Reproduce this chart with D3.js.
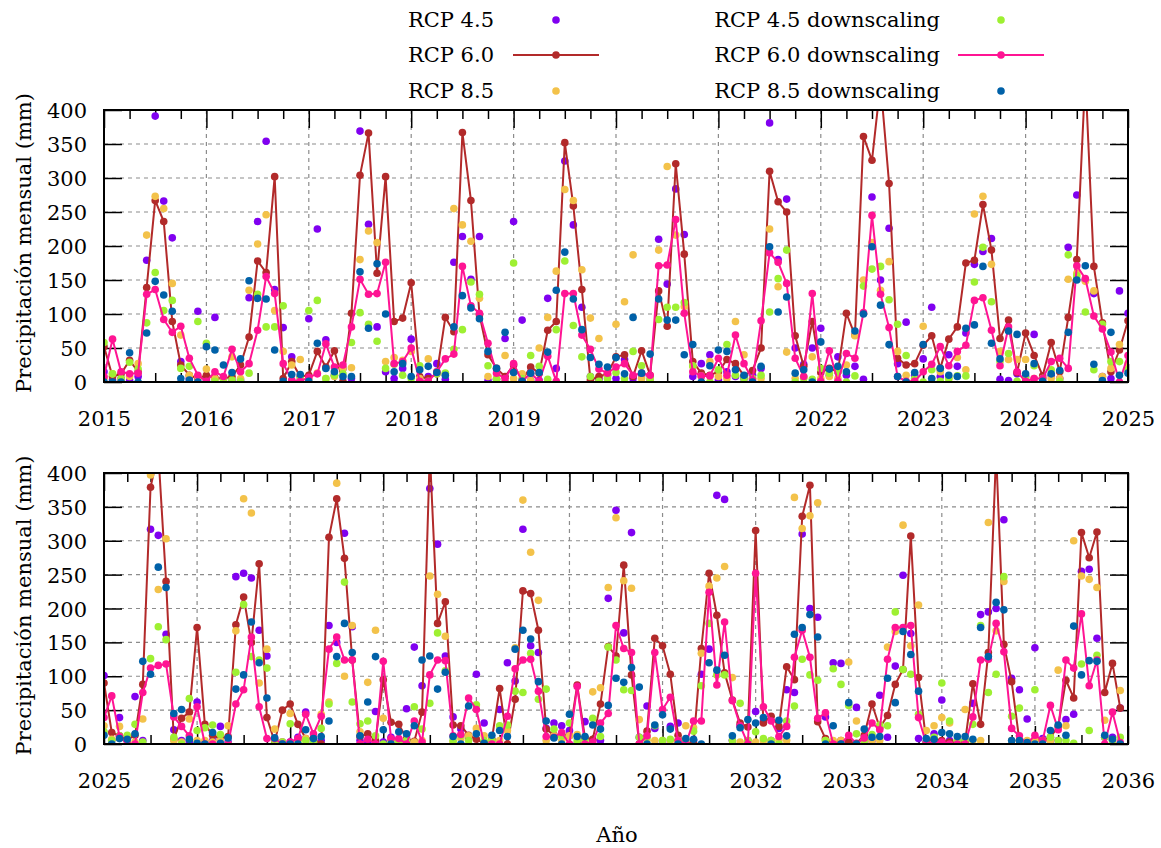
<!DOCTYPE html>
<html>
<head>
<meta charset="utf-8">
<script src="https://cdn.jsdelivr.net/npm/d3@7"></script>
<style>
  body { margin: 0; background: #fff; }
  svg { display: block; }
  text { font-family: "DejaVu Serif", "Liberation Serif", serif; fill: #000; }
</style>
</head>
<body>
<svg id="chart" width="1161" height="848"></svg>
<script>
// Monthly precipitation (mm), one row per calendar year, January 2015 .. December 2035
const firstYear = 2015;

const rcp45 = [
  15, 3, 5, 2, 8, 179, 391, 266, 212, 30, 5, 104,
  3, 95, 5, 2, 3, 124, 236, 354, 136, 80, 37, 2,
  93, 225, 62, 10, 20, 5, 369, 232, 81, 15, 5, 20,
  63, 3, 8, 27, 4, 176, 214, 151, 214, 2, 4, 64,
  236, 91, 2, 2, 123, 20, 325, 231, 110, 8, 4, 10,
  5, 33, 5, 10, 3, 210, 144, 284, 217, 8, 27, 40,
  3, 15, 8, 5, 10, 20, 381, 180, 269, 50, 26, 50,
  79, 10, 37, 10, 23, 4, 272, 150, 226, 27, 88, 10,
  34, 110, 8, 40, 23, 72, 173, 192, 211, 4, 2, 12,
  8, 70, 1, 10, 5, 198, 275, 150, 130, 8, 5, 134,
  101, 5, 39, 5, 70, 5, 317, 308, 162, 21, 5, 3,
  62, 3, 5, 26, 3, 247, 252, 245, 168, 130, 5, 3,
  3, 10, 47, 3, 5, 175, 150, 311, 173, 5, 2, 48,
  3, 10, 5, 52, 143, 86, 377, 295, 130, 40, 22, 10,
  103, 31, 5, 51, 120, 93, 317, 145, 135, 23, 31, 27,
  20, 1, 33, 5, 5, 215, 345, 164, 312, 10, 56, 23,
  3, 26, 31, 5, 5, 103, 140, 367, 361, 5, 27, 5,
  48, 33, 5, 23, 80, 76, 310, 200, 187, 40, 120, 119,
  5, 54, 5, 5, 72, 10, 115, 249, 163, 8, 3, 15,
  65, 5, 3, 5, 60, 191, 195, 200, 331, 97, 80, 37,
  142, 8, 5, 5, 36, 44, 255, 258, 156, 10, 10, 53
];

const rcp60 = [
  52, 8, 12, 32, 15, 139, 267, 236, 89, 25, 10, 5,
  10, 6, 5, 8, 25, 66, 178, 161, 302, 5, 30, 8,
  10, 45, 22, 46, 1, 101, 304, 366, 160, 302, 89, 94,
  146, 8, 5, 12, 95, 74, 367, 267, 99, 40, 20, 8,
  25, 3, 22, 13, 76, 89, 352, 259, 136, 3, 8, 12,
  37, 40, 8, 46, 10, 134, 82, 321, 188, 30, 13, 10,
  15, 33, 27, 9, 17, 50, 310, 265, 250, 68, 23, 89,
  14, 20, 15, 101, 69, 361, 326, 440, 292, 35, 25, 27,
  54, 68, 20, 63, 81, 175, 179, 261, 194, 64, 91, 14,
  72, 39, 9, 58, 15, 95, 180, 450, 170, 87, 15, 47,
  90, 17, 12, 6, 13, 88, 379, 430, 240, 7, 38, 47,
  172, 29, 13, 8, 11, 176, 217, 150, 266, 39, 3, 50,
  59, 29, 8, 8, 0, 305, 362, 274, 124, 11, 15, 5,
  95, 32, 29, 8, 4, 47, 430, 178, 210, 28, 27, 13,
  7, 1, 7, 82, 0, 66, 226, 222, 168, 22, 13, 14,
  12, 87, 9, 7, 59, 144, 130, 264, 102, 0, 19, 156,
  145, 103, 13, 1, 1, 141, 252, 190, 105, 65, 31, 25,
  315, 31, 41, 26, 114, 95, 336, 382, 33, 8, 2, 5,
  3, 1, 13, 59, 24, 42, 88, 110, 307, 98, 3, 8,
  5, 3, 2, 3, 89, 29, 135, 430, 147, 92, 5, 3,
  6, 5, 10, 26, 94, 68, 312, 275, 313, 76, 119, 53
];

const rcp85 = [
  5, 12, 3, 8, 27, 216, 273, 255, 145, 69, 10, 8,
  19, 5, 3, 37, 5, 135, 203, 246, 105, 45, 25, 33,
  4, 13, 5, 8, 20, 21, 180, 222, 205, 30, 36, 32,
  45, 5, 34, 15, 12, 255, 231, 207, 123, 8, 5, 39,
  5, 12, 2, 50, 95, 163, 283, 267, 165, 94, 64, 10,
  85, 118, 187, 5, 3, 194, 317, 216, 111, 23, 8, 30,
  8, 5, 89, 40, 5, 5, 225, 140, 44, 5, 8, 37,
  5, 8, 5, 25, 68, 150, 205, 135, 177, 45, 10, 3,
  82, 5, 15, 5, 36, 18, 247, 273, 173, 45, 33, 33,
  33, 5, 5, 5, 5, 151, 160, 148, 134, 8, 20, 55,
  27, 7, 26, 5, 3, 37, 397, 228, 303, 5, 3, 37,
  5, 5, 3, 5, 27, 167, 362, 341, 90, 140, 22, 3,
  45, 5, 8, 5, 44, 62, 385, 100, 175, 18, 91, 168,
  38, 5, 3, 5, 3, 5, 248, 221, 159, 3, 8, 12,
  23, 12, 5, 5, 20, 142, 360, 283, 212, 5, 12, 5,
  12, 14, 3, 77, 83, 231, 334, 241, 230, 36, 5, 5,
  5, 5, 5, 27, 24, 134, 233, 245, 262, 98, 3, 5,
  3, 5, 5, 5, 5, 364, 318, 337, 356, 5, 5, 5,
  121, 34, 5, 5, 5, 143, 166, 323, 145, 205, 20, 27,
  39, 31, 5, 51, 5, 5, 327, 167, 240, 5, 5, 5,
  5, 5, 5, 109, 27, 300, 248, 243, 231, 35, 5, 79
];

const rcp45Down = [
  58, 12, 5, 29, 19, 87, 161, 105, 120, 20, 23, 89,
  57, 1, 5, 3, 1, 13, 129, 81, 81, 112, 0, 5,
  105, 120, 5, 10, 12, 58, 102, 85, 60, 20, 26, 10,
  5, 24, 1, 12, 13, 48, 77, 147, 129, 24, 4, 1,
  175, 5, 39, 23, 4, 77, 178, 83, 37, 8, 1, 5,
  14, 5, 45, 24, 5, 92, 110, 110, 117, 24, 9, 0,
  18, 55, 10, 5, 5, 10, 103, 152, 194, 0, 5, 4,
  20, 13, 15, 0, 9, 141, 166, 170, 121, 85, 39, 5,
  0, 18, 1, 5, 9, 9, 147, 198, 118, 30, 42, 1,
  5, 24, 5, 18, 1, 187, 156, 103, 18, 85, 30, 30,
  18, 5, 12, 13, 29, 3, 126, 173, 154, 10, 0, 67,
  20, 24, 28, 14, 0, 106, 206, 129, 124, 112, 5, 3,
  30, 5, 5, 3, 23, 59, 119, 239, 62, 30, 34, 12,
  0, 5, 3, 5, 55, 22, 60, 164, 108, 5, 13, 5,
  58, 5, 5, 27, 28, 78, 76, 134, 66, 81, 22, 12,
  31, 5, 5, 38, 11, 143, 124, 80, 79, 10, 10, 27,
  5, 7, 5, 5, 19, 86, 178, 102, 102, 5, 60, 5,
  18, 8, 5, 0, 34, 56, 125, 102, 94, 5, 111, 88,
  57, 15, 5, 14, 28, 27, 195, 110, 103, 44, 0, 10,
  90, 34, 5, 5, 29, 175, 76, 103, 247, 41, 53, 0,
  80, 5, 10, 5, 5, 1, 118, 20, 131, 10, 5, 10
];

const rcp60Down = [
  8, 63, 15, 12, 13, 129, 136, 92, 73, 82, 35, 10,
  1, 15, 8, 48, 15, 27, 76, 155, 130, 27, 3, 1,
  7, 12, 56, 22, 25, 81, 151, 129, 130, 176, 27, 30,
  50, 1, 1, 15, 34, 41, 170, 112, 101, 57, 13, 5,
  27, 1, 13, 1, 38, 1, 130, 130, 69, 48, 19, 13,
  22, 27, 10, 13, 10, 171, 172, 239, 101, 15, 9, 9,
  35, 10, 69, 27, 3, 90, 190, 176, 145, 35, 8, 130,
  1, 46, 1, 42, 35, 102, 245, 129, 80, 8, 1, 1,
  15, 26, 52, 24, 45, 54, 120, 124, 76, 24, 81, 15,
  1, 5, 5, 30, 35, 20, 171, 152, 97, 78, 44, 0,
  39, 71, 11, 0, 0, 76, 112, 116, 118, 40, 26, 12,
  55, 0, 0, 0, 0, 59, 80, 158, 55, 8, 8, 0,
  3, 8, 44, 15, 41, 140, 158, 124, 124, 0, 7, 0,
  122, 8, 8, 0, 34, 3, 102, 124, 123, 12, 14, 68,
  51, 0, 0, 0, 41, 111, 124, 125, 78, 11, 10, 17,
  0, 85, 0, 3, 31, 45, 175, 141, 135, 0, 12, 135,
  51, 69, 5, 0, 34, 34, 224, 87, 180, 64, 27, 0,
  252, 55, 34, 11, 26, 128, 168, 128, 38, 46, 0, 0,
  13, 0, 9, 31, 21, 125, 172, 172, 175, 39, 0, 3,
  3, 0, 0, 0, 40, 124, 125, 178, 136, 23, 12, 0,
  13, 5, 57, 21, 124, 112, 192, 86, 124, 0, 47, 2
];

const rcp85Down = [
  0, 0, 0, 43, 0, 72, 148, 128, 104, 5, 3, 0,
  52, 47, 25, 14, 34, 149, 123, 122, 47, 1, 11, 11,
  1, 57, 20, 15, 8, 8, 162, 79, 174, 100, 15, 27,
  8, 18, 23, 14, 10, 81, 127, 109, 93, 45, 20, 73,
  14, 1, 13, 14, 44, 135, 191, 122, 77, 36, 26, 22,
  36, 12, 95, 13, 41, 122, 91, 91, 40, 55, 0, 24,
  47, 45, 18, 10, 0, 23, 199, 103, 125, 13, 18, 0,
  59, 19, 23, 15, 75, 100, 199, 113, 55, 8, 0, 14,
  55, 5, 20, 10, 8, 79, 84, 170, 57, 34, 75, 70,
  12, 27, 1, 12, 17, 73, 150, 171, 26, 2, 73, 10,
  13, 0, 8, 7, 15, 122, 103, 261, 231, 45, 51, 7,
  1, 0, 17, 1, 9, 81, 102, 180, 120, 68, 9, 0,
  0, 0, 21, 8, 11, 34, 129, 178, 135, 12, 62, 129,
  21, 0, 18, 15, 27, 124, 130, 81, 106, 11, 0, 56,
  15, 1, 13, 20, 11, 140, 168, 155, 92, 34, 9, 0,
  44, 11, 11, 28, 22, 57, 97, 91, 113, 84, 0, 28,
  43, 22, 0, 8, 7, 0, 120, 109, 131, 12, 24, 36,
  31, 39, 0, 35, 12, 162, 172, 191, 158, 0, 27, 0,
  61, 0, 22, 10, 11, 97, 61, 166, 132, 78, 8, 7,
  17, 15, 11, 11, 7, 172, 129, 209, 198, 5, 5, 2,
  0, 0, 20, 28, 13, 174, 102, 123, 122, 13, 7, 0
];

const seriesNames = ["RCP 4.5", "RCP 6.0", "RCP 8.5",
                     "RCP 4.5 downscaling", "RCP 6.0 downscaling", "RCP 8.5 downscaling"];
const seriesValues = [rcp45, rcp60, rcp85, rcp45Down, rcp60Down, rcp85Down];
const seriesColors = ["#8000f0", "#b22a2a", "#f3c24a", "#9ef032", "#ff1493", "#0061a8"];
const seriesLines = [false, true, false, false, true, false];

const yTicks = [0, 50, 100, 150, 200, 250, 300, 350, 400];
const xLabel = "Año";
const yLabel = "Precipitación mensual (mm)";

const panelRanges = [[2015, 2025], [2025, 2036]];

// ---- layout ----
const svg = d3.select("#chart");
const fontSize = 21;
const plotLeft = 104, plotRight = 1128;
const panelBoxes = [{ top: 110, bottom: 382 }, { top: 473, bottom: 744 }];
const xLabelBaselineGap = 44;   // from the lower frame edge to the year labels' baseline

const series = seriesNames.map((name, k) => ({
  name,
  color: seriesColors[k],
  line: seriesLines[k],
  points: seriesValues[k].map((v, i) => ({ t: firstYear + i / 12, v }))
}));

panelRanges.forEach(([from, to], p) => {
  const box = panelBoxes[p];
  const x = d3.scaleLinear().domain([from, to]).range([plotLeft, plotRight]);
  const y = d3.scaleLinear().domain([0, 400]).range([box.bottom, box.top]);
  const g = svg.append("g");
  const clipId = "clip" + p;

  g.append("clipPath").attr("id", clipId)
    .append("rect")
    .attr("x", plotLeft).attr("y", box.top)
    .attr("width", plotRight - plotLeft).attr("height", box.bottom - box.top);

  // dashed grid
  const years = d3.range(from + 1, to);
  g.append("g").selectAll("line").data(years).join("line")
    .attr("x1", d => x(d)).attr("x2", d => x(d))
    .attr("y1", box.top).attr("y2", box.bottom)
    .attr("stroke", "#8c8c8c").attr("stroke-width", 1.2).attr("stroke-dasharray", "4,4");
  g.append("g").selectAll("line").data(yTicks.slice(1, -1)).join("line")
    .attr("x1", plotLeft).attr("x2", plotRight)
    .attr("y1", d => y(d)).attr("y2", d => y(d))
    .attr("stroke", "#8c8c8c").attr("stroke-width", 1.2).attr("stroke-dasharray", "4,4");

  // axes: major ticks on years, minor ticks each quarter, mirrored on all sides
  const majorX = d3.range(from, to + 1);
  const minorX = d3.range(from, to, 0.25).filter(d => !Number.isInteger(d));
  const styleAxis = sel => {
    sel.select(".domain").remove();
    sel.selectAll(".tick line").attr("stroke", "#000").attr("stroke-width", 1.5);
    sel.selectAll("text").attr("font-size", fontSize)
      .attr("font-family", '"DejaVu Serif", serif').attr("fill", "#000");
  };

  const bottomAxis = g.append("g").attr("transform", `translate(0,${box.bottom})`)
    .call(d3.axisBottom(x).tickValues(majorX).tickFormat(d3.format("d"))
      .tickSizeInner(-18).tickSizeOuter(0))
    .call(styleAxis);
  bottomAxis.selectAll(".tick text").attr("y", xLabelBaselineGap).attr("dy", null);

  g.append("g").attr("transform", `translate(0,${box.bottom})`)
    .call(d3.axisBottom(x).tickValues(minorX).tickFormat("").tickSizeInner(-9).tickSizeOuter(0))
    .call(styleAxis);
  g.append("g").attr("transform", `translate(0,${box.top})`)
    .call(d3.axisTop(x).tickValues(majorX).tickFormat("").tickSizeInner(-18).tickSizeOuter(0))
    .call(styleAxis);
  g.append("g").attr("transform", `translate(0,${box.top})`)
    .call(d3.axisTop(x).tickValues(minorX).tickFormat("").tickSizeInner(-9).tickSizeOuter(0))
    .call(styleAxis);

  const leftAxis = g.append("g").attr("transform", `translate(${plotLeft},0)`)
    .call(d3.axisLeft(y).tickValues(yTicks).tickFormat(d3.format("d"))
      .tickSizeInner(-18).tickSizeOuter(0))
    .call(styleAxis);
  leftAxis.selectAll(".tick text").attr("x", -17).attr("dy", "0.36em");

  g.append("g").attr("transform", `translate(${plotRight},0)`)
    .call(d3.axisRight(y).tickValues(yTicks).tickFormat("").tickSizeInner(-18).tickSizeOuter(0))
    .call(styleAxis);

  // series
  const data = g.append("g").attr("clip-path", `url(#${clipId})`);
  const lineGen = d3.line().x(d => x(d.t)).y(d => y(d.v));
  series.forEach(s => {
    const pts = s.points.filter(d => d.t >= from - 1e-9 && d.t <= to + 1e-9);
    if (s.line) {
      data.append("path").datum(pts)
        .attr("d", lineGen).attr("fill", "none")
        .attr("stroke", s.color).attr("stroke-width", 2);
    }
    data.append("g").selectAll("circle").data(pts.filter(d => d.v <= 400)).join("circle")
      .attr("cx", d => x(d.t)).attr("cy", d => y(d.v)).attr("r", 3.8)
      .attr("fill", s.color);
  });

  // frame
  g.append("rect")
    .attr("x", plotLeft).attr("y", box.top)
    .attr("width", plotRight - plotLeft).attr("height", box.bottom - box.top)
    .attr("fill", "none").attr("stroke", "#000").attr("stroke-width", 2);

  // y axis title
  g.append("text")
    .attr("transform", `translate(24,${(box.top + box.bottom) / 2 - 3}) rotate(-90)`)
    .attr("text-anchor", "middle").attr("dominant-baseline", "central")
    .attr("font-size", fontSize).text(yLabel);
});

// x axis title
svg.append("text").attr("x", 617).attr("y", 842)
  .attr("text-anchor", "middle").attr("font-size", fontSize).text(xLabel);

// legend: two columns of three entries
const legendRows = [20, 55, 91];
const legendCols = [{ textRight: 494, sampleFrom: 513, sampleTo: 599 },
                    { textRight: 940, sampleFrom: 958, sampleTo: 1044 }];
const legend = svg.append("g");
series.forEach((s, k) => {
  const col = legendCols[Math.floor(k / 3)];
  const yRow = legendRows[k % 3];
  const item = legend.append("g");
  item.append("text").attr("x", col.textRight).attr("y", yRow)
    .attr("text-anchor", "end").attr("dominant-baseline", "central")
    .attr("font-size", fontSize).text(s.name);
  if (s.line) {
    item.append("line")
      .attr("x1", col.sampleFrom).attr("x2", col.sampleTo)
      .attr("y1", yRow).attr("y2", yRow)
      .attr("stroke", s.color).attr("stroke-width", 2);
  }
  item.append("circle")
    .attr("cx", (col.sampleFrom + col.sampleTo) / 2).attr("cy", yRow)
    .attr("r", 3.8).attr("fill", s.color);
});
</script>
</body>
</html>
